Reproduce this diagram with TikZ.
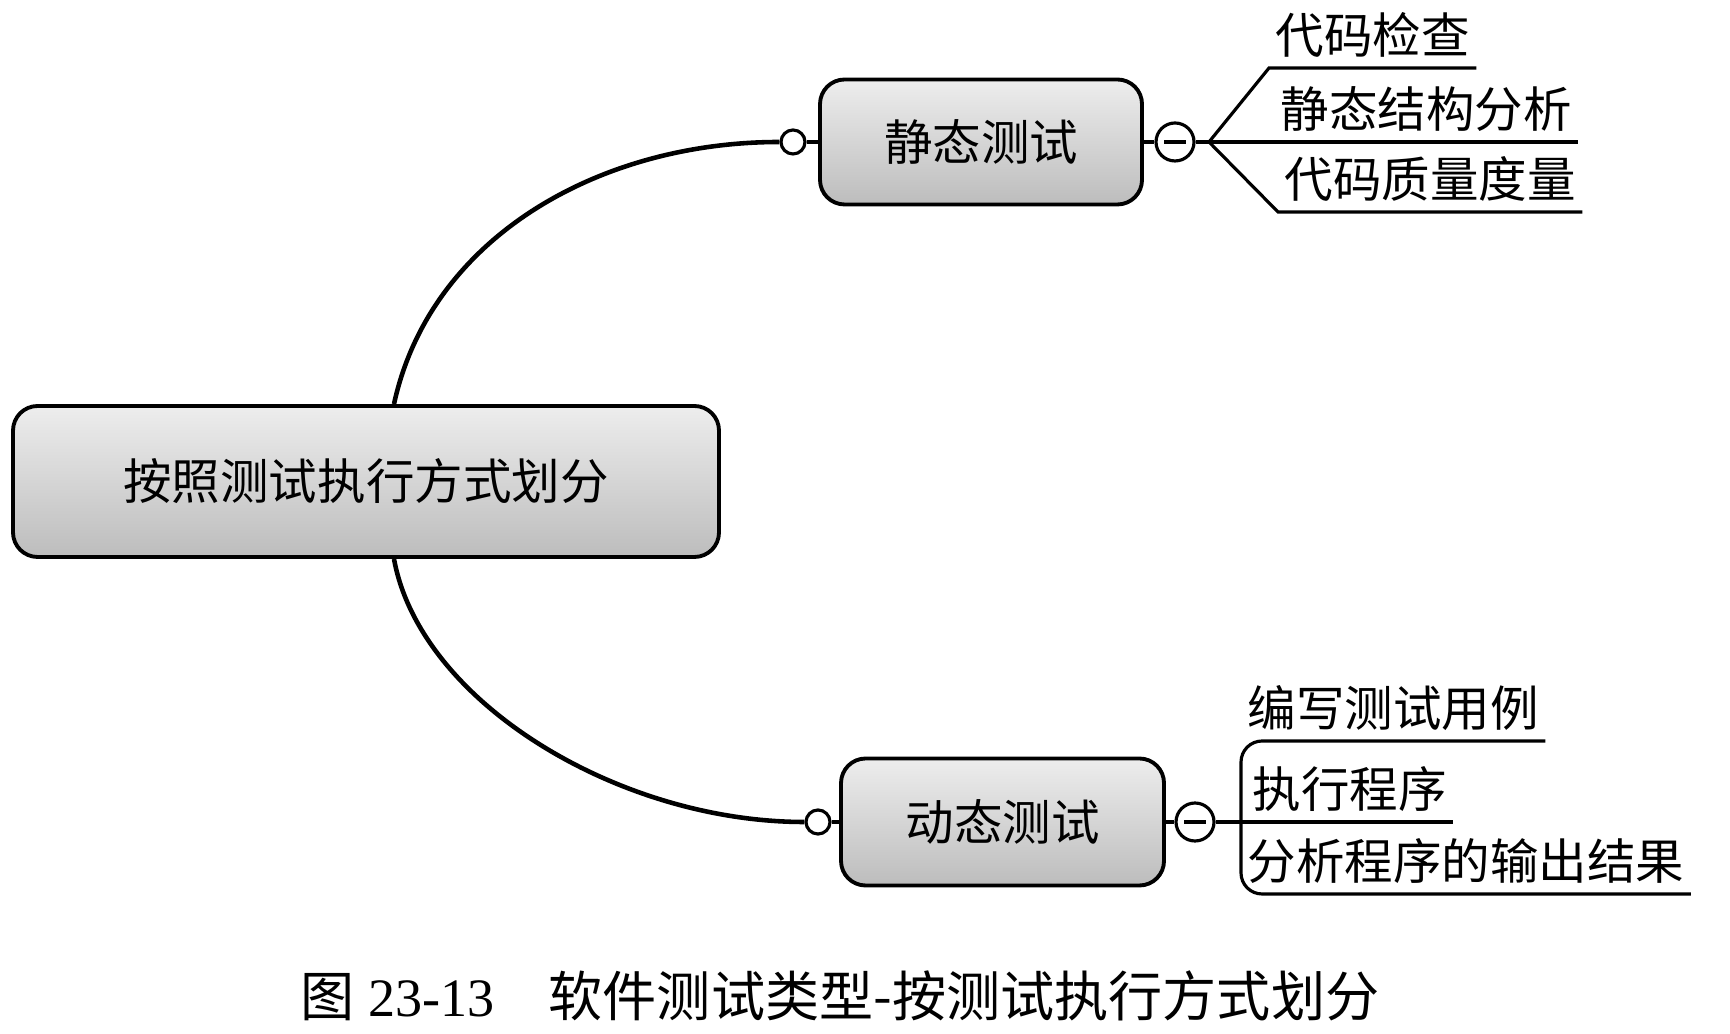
\documentclass[tikz,border=0pt]{standalone}
\usepackage{fontspec}
\setmainfont{Liberation Serif}
\newfontfamily\cjk{Noto Sans CJK SC}
\begin{document}
\begin{tikzpicture}[every node/.style={font=\cjk\fontsize{13.8}{16}\selectfont},
  topic/.style={draw,line width=1.1pt,rounded corners=7pt,inner sep=0pt,top color=gray!14,bottom color=gray!52,align=center},
  knob/.style={circle,draw,line width=0.9pt,fill=white,inner sep=0pt,minimum size=0.24cm},
  fold/.style={circle,draw,line width=0.9pt,fill=white,inner sep=0pt,minimum size=0.38cm,
    path picture={\draw[line width=1pt] ([xshift=-0.11cm]path picture bounding box.center) -- ([xshift=0.11cm]path picture bounding box.center);}},
  leaf/.style={anchor=south west,inner xsep=0.06cm,inner ysep=0.1cm},
  twig/.style={line width=0.9pt}]
\useasboundingbox (0,0) rectangle (17.30,10.34);
\node[topic,minimum width=7.06cm,minimum height=1.51cm] (root) at (3.66,5.525) {按照测试执行方式划分};
\node[topic,minimum width=3.22cm,minimum height=1.25cm] (stat) at (9.81,8.92) {静态测试};
\node[topic,minimum width=3.23cm,minimum height=1.27cm] (dyn) at (10.025,2.12) {动态测试};
\node[knob] (sknob) at (7.93,8.92) {};
\node[knob] (dknob) at (8.18,2.12) {};
\node[fold] (sfold) at (11.75,8.92) {};
\node[fold] (dfold) at (11.95,2.12) {};
\coordinate (sfan) at (12.09,8.92);
\node[leaf] (s1) at (12.69,9.66) {代码检查};
\node[leaf] (s2) at (12.74,8.92) {静态结构分析};
\node[leaf] (s3) at (12.78,8.22) {代码质量度量};
\node[leaf] (d1) at (12.41,2.93) {编写测试用例};
\node[leaf] (d2) at (12.46,2.12) {执行程序};
\node[leaf] (d3) at (12.41,1.40) {分析程序的输出结果};
\node (cap) at (8.40,0.38) {\fontsize{15.4}{18}\selectfont\rmfamily{\cjk 图} 23-13\hspace{1em}{\cjk 软件测试类型-按测试执行方式划分}};
\draw[line width=1.3pt] ([xshift=0.28cm]root.north) .. controls +(0.36,1.66) and +(-1.81,0) .. (sknob.west);
\draw[line width=1.3pt] ([xshift=0.28cm]root.south) .. controls +(0.26,-1.43) and +(-1.86,0) .. (dknob.west);
\draw[twig] (sknob) -- (stat);
\draw[twig] (dknob) -- (dyn);
\draw[twig] (stat) -- (sfold);
\draw[twig] (dyn) -- (dfold);
\draw[twig] (sfold) -- (s2.south east);
\draw[twig] (sfan) -- (s1.south west) -- (s1.south east);
\draw[twig] (sfan) -- (s3.south west) -- (s3.south east);
\draw[twig] (dfold) -- (d2.south east);
\draw[twig,rounded corners=6pt] (d1.south east) -- (d1.south west) -- (d3.south west) -- (d3.south east);
\end{tikzpicture}
\end{document}
